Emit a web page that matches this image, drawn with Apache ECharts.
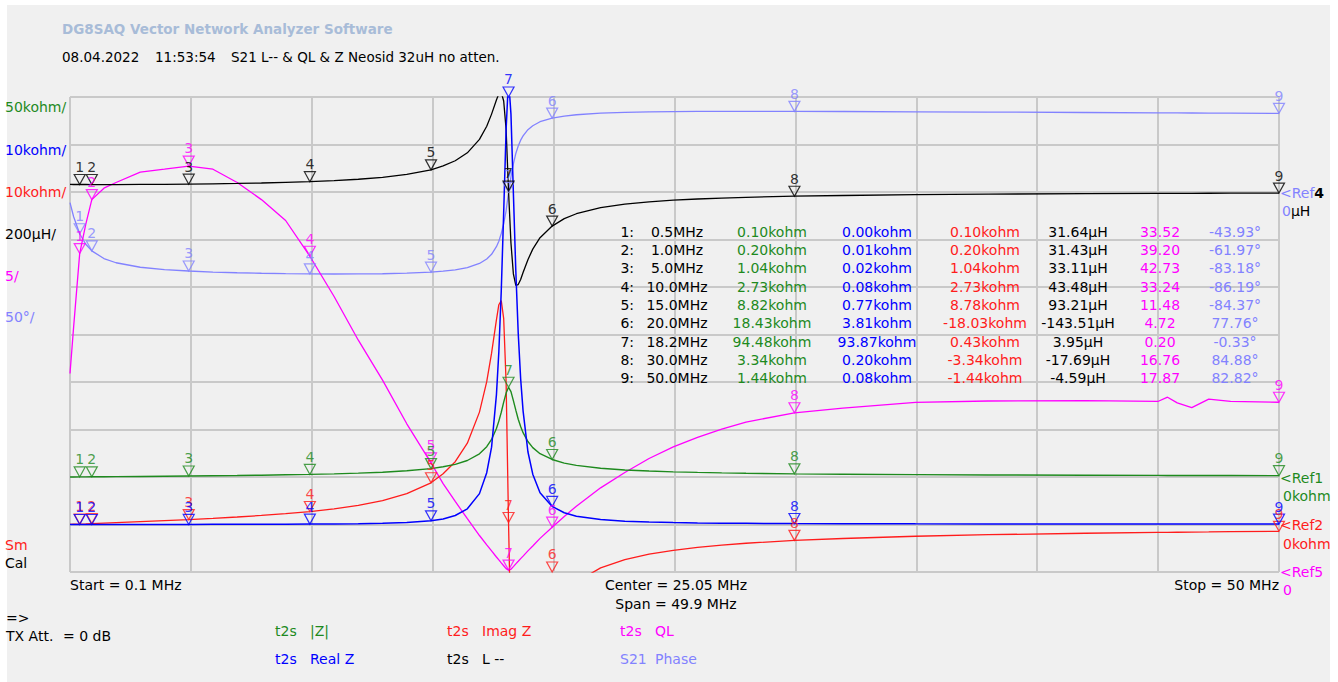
<!DOCTYPE html>
<html><head><meta charset="utf-8">
<script src="https://cdn.jsdelivr.net/npm/echarts@6/dist/echarts.min.js"></script>
<style>
html,body{margin:0;padding:0;background:#ffffff;}
#bg{position:absolute;left:7px;top:5px;width:1323px;height:677px;background:#f0f0f0;}
#chart{position:absolute;left:0;top:0;width:1338px;height:682px;}
</style></head><body><div id="bg"></div><div id="chart"></div>
<script>
// ---------------- data ----------------
const freqMHz = [0.1,0.25,0.5,0.75,1,1.5,2,3,4,5,6,7,8,9,10,11,12,13,14,15,15.5,16,16.5,17,17.3,17.5,17.7,17.8,17.9,18.0,18.1,18.2,18.3,18.4,18.5,18.6,18.7,18.8,19.0,19.2,19.5,20,20.5,21,22,23,24,25,26,27,28,30,32,35,38,42,45,45.4,45.8,46.4,47.1,48,50];
// |Z| in kohm
const absZ = [0.020,0.050,0.10,0.149,0.20,0.296,0.395,0.599,0.811,1.04,1.296,1.582,1.910,2.294,2.73,3.302,4.047,5.054,6.513,8.82,10.74,13.34,17.38,24.45,31.86,39.56,50.98,58.85,68.14,78.78,88.36,94.48,89.85,80.38,70.33,60.79,53.06,46.64,37.31,30.89,24.52,18.43,14.65,12.20,9.198,7.433,6.269,5.441,4.822,4.340,3.953,3.34,2.95,2.474,2.153,1.843,1.673,1.655,1.635,1.605,1.57,1.52,1.44];
// Real Z in kohm
const realZ = [0.001,0.002,0.003,0.004,0.005,0.007,0.010,0.014,0.019,0.024,0.031,0.039,0.049,0.062,0.082,0.114,0.166,0.250,0.417,0.77,1.147,1.9,3.3,6.5,10.9,16.28,27.29,36.36,49.22,65.80,83.14,93.87,86.39,69.79,53.41,40.28,30.68,23.93,15.31,10.59,6.67,3.81,2.467,1.741,1.032,0.707,0.523,0.412,0.339,0.288,0.250,0.20,0.171,0.141,0.121,0.105,0.095,0.094,0.093,0.091,0.089,0.086,0.08];
// Imag Z in kohm
const imagZ = [0.020,0.050,0.10,0.149,0.20,0.296,0.395,0.599,0.811,1.04,1.296,1.582,1.909,2.293,2.73,3.30,4.044,5.048,6.50,8.78,10.67,13.22,17.11,23.66,30.06,36.06,43.06,46.27,47.13,43.33,29.90,0.43,-24.71,-39.87,-45.75,-45.53,-43.29,-40.03,-34.02,-29.02,-23.59,-18.03,-14.44,-12.07,-9.14,-7.40,-6.25,-5.43,-4.81,-4.33,-3.95,-3.34,-2.95,-2.47,-2.15,-1.84,-1.67,-1.65,-1.63,-1.60,-1.57,-1.52,-1.44];
// L in µH
const inductance = [31.70,31.68,31.64,31.55,31.43,31.35,31.40,31.76,32.26,33.11,34.38,35.96,37.97,40.54,43.48,47.75,53.64,61.80,73.90,93.21,109.6,131.5,165.0,221.5,276.6,327.9,387.2,413.7,419.0,383.1,262.9,3.95,-214.9,-344.9,-393.6,-389.6,-368.4,-338.9,-285.0,-240.6,-192.5,-143.51,-112.1,-91.5,-66.1,-51.2,-41.4,-34.5,-29.4,-25.5,-22.4,-17.69,-14.66,-11.23,-9.00,-6.97,-5.91,-5.78,-5.66,-5.49,-5.30,-5.04,-4.59];
// QL
const qualityL = [20.9,25.8,33.52,36.6,39.2,40.4,41.0,42.1,42.4,42.73,42.4,41.0,39.2,37.0,33.24,29.0,24.4,20.2,15.6,11.48,9.31,7.43,5.61,3.84,2.85,2.22,1.58,1.27,0.96,0.66,0.36,0.20,0.29,0.57,0.86,1.13,1.41,1.67,2.22,2.74,3.54,4.72,5.85,6.93,8.86,10.47,11.95,13.18,14.17,15.03,15.78,16.76,17.25,17.85,18.0,18.05,17.95,18.4,17.8,17.3,18.2,17.95,17.87];
// S21 phase in degrees
const phaseDeg = [-11.16,-26.02,-43.93,-55.01,-61.97,-70.04,-74.47,-79.20,-81.64,-83.18,-84.25,-85.00,-85.55,-85.96,-86.19,-86.29,-86.24,-86.03,-85.45,-84.37,-83.34,-81.91,-79.57,-75.19,-70.48,-65.57,-57.55,-51.77,-43.70,-33.33,-19.76,-0.33,15.94,29.70,40.53,48.43,54.59,59.02,65.63,69.78,73.99,77.76,79.92,81.33,82.94,83.78,84.31,84.61,84.78,84.88,84.93,84.88,84.75,84.43,84.12,83.66,83.34,83.30,83.25,83.18,83.10,83.00,82.82];

// markers (table)
const markerNo = [1,2,3,4,5,6,7,8,9];
const markerFreq = [0.5,1.0,5.0,10.0,15.0,20.0,18.2,30.0,50.0];
const markerAbsZ = [0.10,0.20,1.04,2.73,8.82,18.43,94.48,3.34,1.44];
const markerRealZ = [0.00,0.01,0.02,0.08,0.77,3.81,93.87,0.20,0.08];
const markerImagZ = [0.10,0.20,1.04,2.73,8.78,-18.03,0.43,-3.34,-1.44];
const markerL = [31.64,31.43,33.11,43.48,93.21,-143.51,3.95,-17.69,-4.59];
const markerQL = [33.52,39.20,42.73,33.24,11.48,4.72,0.20,16.76,17.87];
const markerPhase = [-43.93,-61.97,-83.18,-86.19,-84.37,77.76,-0.33,84.88,82.82];

// scale labels
const scaleLabels = ['50kohm/','10kohm/','10kohm/','200µH/','5/','50°/'];
const legendNames = ['|Z|','Real Z','Imag Z','L --','QL','Phase'];
const legendPrefix = ['t2s','t2s','t2s','t2s','t2s','S21'];

// ---------------- styling ----------------
const COL = {z:'#1e8a1e', re:'#0000ff', im:'#ff1c1c', L:'#000000', q:'#ff00ff', ph:'#8282ff'};
const FONT = '"DejaVu Sans", Verdana, sans-serif';

// per-trace axis ranges (10 divisions)
const R = {
  z:[-100,400], re:[-10,90], im:[-10,90], L:[-1600,400], q:[0,50], ph:[-400,100]
};
const axisOrder = ['z','re','im','L','q','ph'];

const chart = echarts.init(document.getElementById('chart'), null, {renderer:'svg'});

const yAxes = [{
  type:'value', min:0, max:10, interval:1,
  axisLine:{show:false}, axisTick:{show:false}, axisLabel:{show:false},
  splitLine:{show:true, lineStyle:{color:'#c9c9c9', width:2}}
}];
axisOrder.forEach(k => yAxes.push({type:'value', min:R[k][0], max:R[k][1], show:false, splitLine:{show:false}}));

function lineSeries(arr, key, width, z) {
  return {
    type:'line', xAxisIndex:1, yAxisIndex:axisOrder.indexOf(key)+1,
    data: freqMHz.map((f,i)=>[f, arr[i]]),
    showSymbol:false, symbol:'none', clip:true, smooth:false,
    lineStyle:{color:COL[key], width:width}, itemStyle:{color:COL[key]},
    emphasis:{disabled:true}, silent:true, animation:false, z:z
  };
}
function markerSeries(arr, key) {
  const lo = R[key][0], hi = R[key][1];
  return {
    type:'scatter', xAxisIndex:1, yAxisIndex:axisOrder.indexOf(key)+1,
    data: markerFreq.map((f,i)=>({name:String(markerNo[i]), value:[f, Math.min(hi, Math.max(lo, arr[i]))]})),
    symbol:'path://M0,0L12,0L6,11Z', symbolSize:[11,10], symbolOffset:[0,-5],
    clip:false, silent:true, animation:false, z:10,
    itemStyle:{color:'rgba(0,0,0,0)', borderColor:COL[key], borderWidth:1.2},
    label:{show:true, position:'top', distance:0, formatter:p=>p.name,
           color:COL[key], fontSize:14, fontFamily:FONT},
    emphasis:{disabled:true}
  };
}

const series = [
  lineSeries(phaseDeg,'ph',1.3,2),
  lineSeries(qualityL,'q',1.3,3),
  lineSeries(inductance,'L',1.3,4),
  lineSeries(imagZ,'im',1.3,5),
  lineSeries(absZ,'z',1.4,6),
  lineSeries(realZ,'re',1.5,7),
  markerSeries(markerPhase,'ph'),
  markerSeries(markerQL,'q'),
  markerSeries(markerL,'L'),
  markerSeries(markerImagZ,'im'),
  markerSeries(markerAbsZ,'z'),
  markerSeries(markerRealZ,'re')
];

// ---------------- texts ----------------
const G = [];
function T(x, y, s, color, opt) {
  opt = opt || {};
  const al = opt.align || 'left';
  G.push({type:'text', silent:true, z:100, style:{
    x:x, y:y, text:s, fill:color,
    font:(opt.bold?'bold ':'') + (opt.size||14) + 'px ' + FONT,
    align:al, textAlign:al, verticalAlign:'middle', textVerticalAlign:'middle',
    rich: opt.rich
  }});
}
// title
T(62, 29, 'DG8SAQ Vector Network Analyzer Software', '#a8bcd8', {bold:true, size:13.5});
T(62, 57, '08.04.2022', '#000', {size:13.5});
T(155, 57, '11:53:54', '#000', {size:13.5});
T(231, 57, 'S21 L-- & QL & Z Neosid 32uH no atten.', '#000', {size:13.5});

// left scale labels
const scaleColors = [COL.z, COL.re, COL.im, COL.L, COL.q, COL.ph];
const scaleY = [106.5, 149.5, 191.5, 233.5, 275.5, 317];
scaleLabels.forEach((s,i)=>T(5, scaleY[i], s, scaleColors[i]));
T(5, 545, 'Sm', COL.im);
T(5, 563, 'Cal', '#000');

// right reference labels
T(1280, 192.5, '{a|<Ref}{b|4}', COL.ph, {rich:{a:{fill:COL.ph, font:'14px '+FONT}, b:{fill:'#000', font:'bold 14px '+FONT}}});
T(1282, 211, '{a|0}{b|µH}', COL.ph, {rich:{a:{fill:COL.ph, font:'14px '+FONT}, b:{fill:'#000', font:'14px '+FONT}}});
T(1280, 477.5, '<Ref1', COL.z);
T(1283, 496, '0kohm', COL.z);
T(1280, 524.5, '<Ref2', COL.im);
T(1283, 543.5, '0kohm', COL.im);
T(1280, 572, '<Ref5', COL.q);
T(1283, 590, '0', COL.q);

// bottom axis texts
T(70, 585, 'Start = 0.1 MHz', '#000');
T(676, 585, 'Center = 25.05 MHz', '#000', {align:'center'});
T(676, 604, 'Span = 49.9 MHz', '#000', {align:'center'});
T(1279, 585, 'Stop = 50 MHz', '#000', {align:'right'});
T(6, 618, '=>', '#000');
T(6, 636, 'TX Att.', '#000');
T(63, 636, '= 0 dB', '#000');

// legend
const legColors = [COL.z, COL.re, COL.im, COL.L, COL.q, COL.ph];
const legX = [275, 275, 447, 447, 620, 620];
const legY = [630.5, 659, 630.5, 659, 630.5, 659];
legendNames.forEach((s,i)=>{
  T(legX[i], legY[i], legendPrefix[i], legColors[i]);
  T(legX[i]+35, legY[i], s, legColors[i]);
});

// marker table
const rowY0 = 231.7, rowDy = 18.33;
markerNo.forEach((n,i)=>{
  const y = rowY0 + i*rowDy;
  T(634, y, n + ':', '#000', {align:'right'});
  T(677, y, markerFreq[i].toFixed(1) + 'MHz', '#000', {align:'center'});
  T(772, y, markerAbsZ[i].toFixed(2) + 'kohm', COL.z, {align:'center'});
  T(877, y, markerRealZ[i].toFixed(2) + 'kohm', COL.re, {align:'center'});
  T(985, y, markerImagZ[i].toFixed(2) + 'kohm', COL.im, {align:'center'});
  T(1078, y, markerL[i].toFixed(2) + 'µH', '#000', {align:'center'});
  T(1160, y, markerQL[i].toFixed(2), COL.q, {align:'center'});
  T(1235, y, markerPhase[i].toFixed(2) + '°', COL.ph, {align:'center'});
});

chart.setOption({
  backgroundColor:'transparent',
  animation:false,
  grid:{left:70, top:97, width:1209, height:475, containLabel:false},
  xAxis:[
    {type:'value', min:0, max:10, interval:1,
     axisLine:{show:false}, axisTick:{show:false}, axisLabel:{show:false},
     splitLine:{show:true, lineStyle:{color:'#c9c9c9', width:2}}},
    {type:'value', min:0.1, max:50, show:false, splitLine:{show:false}}
  ],
  yAxis: yAxes,
  series: series,
  graphic: G
});
</script></body></html>
